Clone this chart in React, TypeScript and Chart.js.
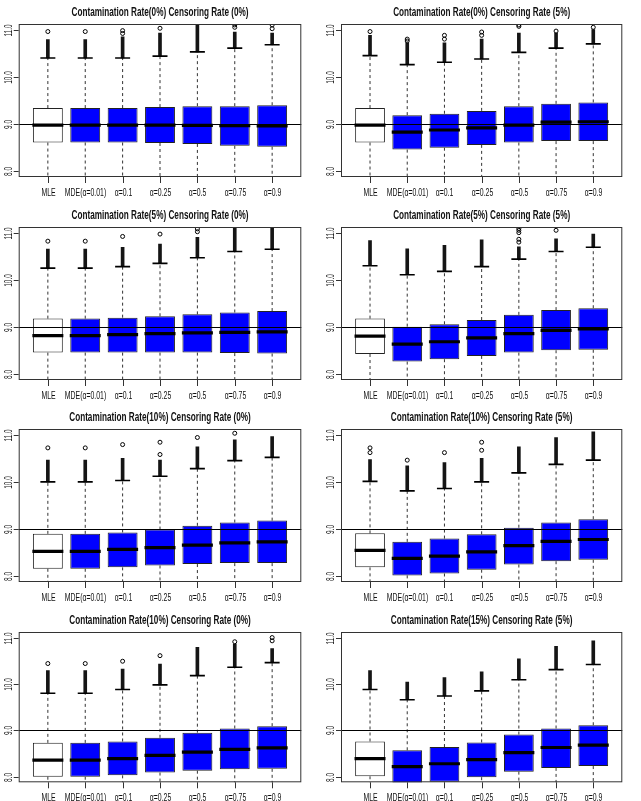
import React, { useEffect, useRef } from 'react';
import { Chart, registerables } from 'chart.js';

Chart.register(...registerables);

// ---------- data ----------
const categories = ['MLE', 'MDE(α=0.01)', 'α=0.1', 'α=0.25', 'α=0.5', 'α=0.75', 'α=0.9'];

const panelTitles = [
  'Contamination Rate(0%) Censoring Rate (0%)',
  'Contamination Rate(0%) Censoring Rate (5%)',
  'Contamination Rate(5%) Censoring Rate (0%)',
  'Contamination Rate(5%) Censoring Rate (5%)',
  'Contamination Rate(10%) Censoring Rate (0%)',
  'Contamination Rate(10%) Censoring Rate (5%)',
  'Contamination Rate(10%) Censoring Rate (0%)',
  'Contamination Rate(15%) Censoring Rate (5%)',
];

const yTickValues = [8, 9, 10, 11];
const yTickLabels = ['8.0', '9.0', '10.0', '11.0'];
const trueValue = 9;
const yMin = 7.88;
const yMax = 11.12;
const xMin = 0.22;
const xMax = 7.78;

const lowerQuartiles = [
  [8.61, 8.61, 8.61, 8.6, 8.58, 8.54, 8.52],
  [8.61, 8.46, 8.5, 8.56, 8.61, 8.64, 8.64],
  [8.46, 8.46, 8.46, 8.46, 8.46, 8.45, 8.44],
  [8.43, 8.27, 8.32, 8.39, 8.46, 8.51, 8.52],
  [8.16, 8.16, 8.19, 8.23, 8.26, 8.28, 8.28],
  [8.19, 8.02, 8.06, 8.14, 8.25, 8.32, 8.35],
  [8.0, 8.0, 8.03, 8.09, 8.13, 8.16, 8.17],
  [8.01, 7.86, 7.89, 7.99, 8.11, 8.19, 8.23],
];

const medians = [
  [8.98, 8.98, 8.98, 8.98, 8.975, 8.97, 8.96],
  [8.98, 8.83, 8.875, 8.92, 8.98, 9.04, 9.05],
  [8.82, 8.82, 8.84, 8.86, 8.88, 8.89, 8.9],
  [8.81, 8.64, 8.69, 8.77, 8.86, 8.93, 8.96],
  [8.53, 8.53, 8.57, 8.61, 8.66, 8.71, 8.73],
  [8.55, 8.38, 8.43, 8.52, 8.65, 8.74, 8.78],
  [8.36, 8.36, 8.39, 8.46, 8.53, 8.59, 8.62],
  [8.39, 8.22, 8.28, 8.37, 8.52, 8.63, 8.68],
];

const upperQuartiles = [
  [9.34, 9.34, 9.34, 9.36, 9.38, 9.38, 9.4],
  [9.34, 9.19, 9.22, 9.28, 9.38, 9.43, 9.46],
  [9.18, 9.18, 9.2, 9.23, 9.27, 9.31, 9.34],
  [9.18, 9.01, 9.06, 9.15, 9.26, 9.36, 9.4],
  [8.9, 8.9, 8.93, 8.99, 9.07, 9.14, 9.18],
  [8.91, 8.73, 8.8, 8.89, 9.03, 9.14, 9.21],
  [8.73, 8.73, 8.76, 8.84, 8.95, 9.04, 9.09],
  [8.76, 8.57, 8.64, 8.74, 8.91, 9.04, 9.11],
];

const upperWhiskers = [
  [10.4, 10.4, 10.4, 10.44, 10.53, 10.61, 10.68],
  [10.45, 10.26, 10.31, 10.38, 10.52, 10.61, 10.7],
  [10.25, 10.25, 10.28, 10.35, 10.47, 10.6, 10.65],
  [10.3, 10.11, 10.18, 10.28, 10.44, 10.6, 10.69],
  [10.0, 10.0, 10.03, 10.12, 10.28, 10.45, 10.52],
  [10.01, 9.81, 9.86, 10.0, 10.19, 10.37, 10.46],
  [9.8, 9.8, 9.88, 9.98, 10.18, 10.36, 10.46],
  [9.88, 9.66, 9.74, 9.85, 10.09, 10.31, 10.42],
];

// lower whiskers lie below the visible range (clipped in the original)
const lowerWhiskers = [
  [7.55, 7.55, 7.55, 7.5, 7.45, 7.4, 7.35],
  [7.55, 7.4, 7.45, 7.5, 7.5, 7.5, 7.45],
  [7.4, 7.4, 7.4, 7.35, 7.3, 7.25, 7.2],
  [7.35, 7.2, 7.25, 7.3, 7.3, 7.3, 7.3],
  [7.1, 7.1, 7.1, 7.1, 7.05, 7.0, 6.95],
  [7.1, 6.95, 7.0, 7.05, 7.1, 7.1, 7.1],
  [6.9, 6.9, 6.9, 6.95, 6.9, 6.85, 6.8],
  [6.9, 6.75, 6.8, 6.85, 6.9, 6.95, 6.95],
];

// top of the dense run of outliers just above each upper whisker
const denseOutlierTops = [
  [10.79, 10.79, 10.85, 10.93, 11.2, 10.95, 10.93],
  [10.88, 10.72, 10.72, 10.8, 10.93, 10.93, 11.0],
  [10.65, 10.65, 10.69, 10.76, 10.9, 11.2, 11.2],
  [10.83, 10.66, 10.73, 10.85, 10.7, 10.87, 10.97],
  [10.46, 10.46, 10.5, 10.46, 10.74, 10.89, 10.96],
  [10.47, 10.34, 10.41, 10.5, 10.74, 10.94, 11.06],
  [10.29, 10.29, 10.32, 10.43, 10.79, 10.86, 10.76],
  [10.29, 10.04, 10.14, 10.26, 10.54, 10.81, 10.93],
];

// isolated outliers above the dense run
const isolatedOutliers = [
  [[10.96], [10.96], [10.92, 10.98], [11.03], [], [11.05, 11.1], [11.02, 11.1]],
  [[10.96], [10.76, 10.8], [10.8, 10.88], [10.88, 10.95], [11.07, 11.1], [10.97], [11.05]],
  [[10.82], [10.82], [10.92], [10.97], [11.02, 11.08], [], []],
  [[], [], [], [], [10.8, 10.86, 11.0, 11.05, 11.09], [11.05], []],
  [[10.72], [10.72], [10.79], [10.58, 10.84], [10.94], [11.03], []],
  [[10.62, 10.72], [10.46], [10.62], [10.67, 10.84], [], [], []],
  [[10.44], [10.44], [10.49], [10.61], [], [10.91], [10.93, 11.0]],
  [[], [], [], [], [], [], []],
];

// ---------- layout ----------
const rowTops = [0, 202, 405, 607];
const rowHeights = [202, 203, 202, 194];
const rowPadTop = [24, 25, 24, 25];
const frameHeight = 153;
const colLefts = [0, 320];
const colWidths = [320, 321];
const colPadLeft = [17, 21];
const colPadRight = [11, 8];

const FONT = '"Liberation Sans", Arial, Helvetica, sans-serif';

function drawText(
  ctx: CanvasRenderingContext2D,
  text: string,
  x: number,
  y: number,
  font: string,
  sx: number,
  align: CanvasTextAlign,
  rotate = 0
) {
  ctx.save();
  ctx.translate(x, y);
  if (rotate) ctx.rotate(rotate);
  ctx.scale(sx, 1);
  ctx.font = font;
  ctx.textAlign = align;
  ctx.textBaseline = 'middle';
  ctx.fillStyle = '#111';
  ctx.fillText(text, 0, 0);
  ctx.restore();
}

function Panel({ index }: { index: number }) {
  const ref = useRef<HTMLCanvasElement | null>(null);
  const row = Math.floor(index / 2);
  const col = index % 2;
  const width = colWidths[col];
  const height = rowHeights[row];

  useEffect(() => {
    if (!ref.current) return;
    const xs = categories.map((_, i) => i + 1);
    const q1 = lowerQuartiles[index];
    const q3 = upperQuartiles[index];
    const med = medians[index];
    const wHi = upperWhiskers[index];
    const wLo = lowerWhiskers[index];
    const dTop = denseOutlierTops[index];
    const iso = isolatedOutliers[index];

    const whiskerData: any[] = [];
    xs.forEach((x, i) => {
      whiskerData.push({ x, y: q3[i] }, { x, y: wHi[i] }, { x, y: null });
      whiskerData.push({ x, y: q1[i] }, { x, y: wLo[i] }, { x, y: null });
    });
    const outlierData: any[] = [];
    xs.forEach((x, i) => iso[i].forEach((v) => outlierData.push({ x, y: v })));

    const overlay = {
      id: 'boxplotFrame',
      afterDatasetsDraw(chart: any) {
        const { ctx, chartArea } = chart;
        const ys = chart.scales.y;
        const yp = Math.round(ys.getPixelForValue(trueValue)) + 0.5;
        ctx.save();
        ctx.strokeStyle = '#000';
        ctx.lineWidth = 1;
        ctx.beginPath();
        ctx.moveTo(chartArea.left, yp);
        ctx.lineTo(chartArea.right, yp);
        ctx.stroke();
        ctx.restore();
      },
      afterDraw(chart: any) {
        const { ctx, chartArea } = chart;
        const xsScale = chart.scales.x;
        const ysScale = chart.scales.y;
        ctx.save();
        ctx.strokeStyle = '#333';
        ctx.lineWidth = 1;
        ctx.strokeRect(
          chartArea.left + 0.5,
          chartArea.top + 0.5,
          chartArea.right - chartArea.left - 1,
          chartArea.bottom - chartArea.top - 1
        );
        // x ticks + labels
        categories.forEach((c, i) => {
          const px = Math.round(xsScale.getPixelForValue(i + 1)) + 0.5;
          ctx.beginPath();
          ctx.moveTo(px, chartArea.bottom);
          ctx.lineTo(px, chartArea.bottom + 6);
          ctx.stroke();
          drawText(ctx, c, px, chartArea.bottom + 16, `11.5px ${FONT}`, 0.6, 'center');
        });
        // y ticks + labels
        yTickValues.forEach((v, i) => {
          const py = Math.round(ysScale.getPixelForValue(v)) + 0.5;
          ctx.beginPath();
          ctx.moveTo(chartArea.left, py);
          ctx.lineTo(chartArea.left - 5, py);
          ctx.stroke();
          drawText(ctx, yTickLabels[i], chartArea.left - 10, py, `10.5px ${FONT}`, 0.62, 'center', -Math.PI / 2);
        });
        // title
        drawText(
          ctx,
          panelTitles[index],
          (chartArea.left + chartArea.right) / 2,
          chartArea.top - 12,
          `bold 13px ${FONT}`,
          0.63,
          'center'
        );
        ctx.restore();
      },
    };

    const chart = new Chart(ref.current, {
      type: 'bar',
      data: {
        datasets: [
          {
            type: 'scatter',
            label: 'median',
            data: xs.map((x, i) => ({ x, y: med[i] })),
            pointStyle: 'line',
            pointRadius: 15.5,
            pointBorderWidth: 3.2,
            pointBorderColor: '#000',
            pointBackgroundColor: '#000',
            order: 0,
            clip: 0,
          },
          {
            type: 'scatter',
            label: 'whisker cap',
            data: xs.map((x, i) => ({ x, y: wHi[i] })),
            pointStyle: 'line',
            pointRadius: 7.5,
            pointBorderWidth: 1.6,
            pointBorderColor: '#000',
            order: 1,
            clip: 0,
          },
          {
            type: 'scatter',
            label: 'outliers',
            data: outlierData,
            pointStyle: 'circle',
            pointRadius: 2,
            pointBorderWidth: 1,
            pointBorderColor: '#000',
            pointBackgroundColor: 'rgba(0,0,0,0)',
            order: 2,
            clip: 0,
          },
          {
            type: 'bar',
            label: 'dense outliers',
            data: xs.map((x, i) => ({ x, y: [wHi[i], dTop[i]] })),
            backgroundColor: '#151515',
            borderWidth: 0,
            barThickness: 3,
            grouped: false,
            order: 3,
            clip: 0,
          } as any,
          {
            type: 'bar',
            label: 'box',
            data: xs.map((x, i) => ({ x, y: [q1[i], q3[i]] })),
            backgroundColor: xs.map((_, i) => (i === 0 ? '#ffffff' : '#0000ff')),
            borderColor: '#222',
            borderWidth: 1,
            borderSkipped: false,
            grouped: false,
            barPercentage: 0.8,
            categoryPercentage: 1,
            order: 4,
            clip: 0,
          } as any,
          {
            type: 'line',
            label: 'whiskers',
            data: whiskerData,
            borderColor: '#333',
            borderWidth: 1,
            borderDash: [3, 3],
            pointRadius: 0,
            spanGaps: false,
            fill: false,
            order: 5,
            clip: 0,
          } as any,
        ],
      },
      options: {
        responsive: false,
        animation: false,
        events: [],
        layout: {
          padding: {
            left: colPadLeft[col],
            right: colPadRight[col],
            top: rowPadTop[row],
            bottom: height - rowPadTop[row] - frameHeight,
          },
        },
        scales: {
          x: { type: 'linear', min: xMin, max: xMax, offset: false, display: false },
          y: { type: 'linear', min: yMin, max: yMax, display: false },
        },
        plugins: {
          legend: { display: false },
          tooltip: { enabled: false },
          title: { display: false },
        },
      } as any,
      plugins: [overlay],
    });
    return () => chart.destroy();
  }, [index]);

  return (
    <canvas
      ref={ref}
      width={width}
      height={height}
      style={{
        position: 'absolute',
        left: colLefts[col],
        top: rowTops[row],
        width,
        height,
        display: 'block',
      }}
    />
  );
}

export default function App() {
  return (
    <div
      style={{
        position: 'absolute',
        left: 0,
        top: 0,
        width: 641,
        height: 801,
        background: '#ffffff',
        overflow: 'hidden',
      }}
    >
      {panelTitles.map((_, i) => (
        <Panel key={i} index={i} />
      ))}
    </div>
  );
}
